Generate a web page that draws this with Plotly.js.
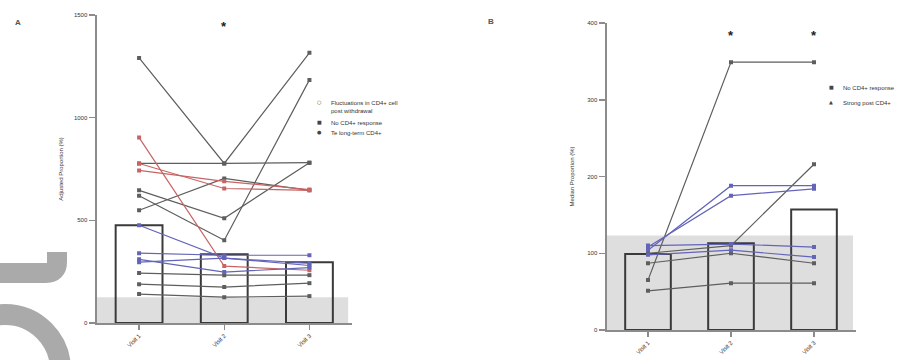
<!DOCTYPE html>
<html>
<head>
<meta charset="utf-8">
<script src="https://cdn.plot.ly/plotly-3.0.1.min.js"></script>
<style>html,body{margin:0;padding:0;background:#fff}#chart{width:910px;height:360px}</style>
</head>
<body>
<div id="chart"></div>
<script>
// ---------- data ----------
const categories = ['Visit 1', 'Visit 2', 'Visit 3'];

// Panel A
const leftBarMeans = [476, 335, 296];
const leftRefUpper = 126;
const leftGray = [
  [1291, 777, 1316],
  [777, 777, 781],
  [620, 403, 1184],
  [646, 510, 781],
  [549, 704, 646],
  [243, 233, 233],
  [189, 175, 194],
  [141, 126, 131]
];
const leftRed = [
  [903, 277, 257],
  [777, 655, 646],
  [743, 690, 650]
];
const leftBlue = [
  [476, 316, 291],
  [340, 330, 330],
  [296, 316, 280],
  [310, 248, 270]
];
const leftSig = ['Visit 2'];
const leftLegendNames = ['Fluctuations in CD4+ cell<br>post withdrawal', 'No CD4+ response', 'Te long-term CD4+'];
const leftLegendSymbols = ['○', '■', '●'];

// Panel B
const rightBarMeans = [99, 113, 157];
const rightRefUpper = 123;
const rightGray = [
  [65, 349, 349],
  [51, 61, 61],
  [100, 110, 216],
  [87, 100, 87]
];
const rightBlue = [
  [104, 188, 188],
  [108, 175, 184],
  [110, 112, 108],
  [98, 104, 95]
];
const rightSig = ['Visit 2', 'Visit 3'];
const rightLegendNames = ['No CD4+ response', 'Strong post CD4+'];
const rightLegendSymbols = ['■', '▲'];

// ---------- styling ----------
const GRAY = '#5e5e5e', RED = '#c86464', BLUE = '#6464b8';
const AX = '#8c8c8c';
const FONT = {family: 'Liberation Sans, Arial, sans-serif', size: 6, color: '#333'};

const traces = [];
function bars(means, xa, ya) {
  traces.push({type: 'bar', x: categories, y: means, xaxis: xa, yaxis: ya, width: 0.55,
    marker: {color: 'rgba(255,255,255,0)', line: {color: '#3a3a3a', width: 2}},
    showlegend: false, hoverinfo: 'skip'});
}
function lines(set, color, xa, ya) {
  set.forEach(v => traces.push({type: 'scatter', mode: 'lines+markers', x: categories, y: v,
    xaxis: xa, yaxis: ya, line: {color: color, width: 1.2},
    marker: {color: color, size: 4, symbol: 'square'}, showlegend: false}));
}
bars(leftBarMeans, 'x', 'y');
lines(leftGray, GRAY, 'x', 'y');
lines(leftRed, RED, 'x', 'y');
lines(leftBlue, BLUE, 'x', 'y');
bars(rightBarMeans, 'x2', 'y2');
lines(rightGray, GRAY, 'x2', 'y2');
lines(rightBlue, BLUE, 'x2', 'y2');

const W = 910, H = 360;
const px = x => x / W, py = y => 1 - y / H;

const xCommon = {type: 'category', range: [-0.5, 2.5], showline: true, linecolor: AX, linewidth: 2,
  ticks: 'outside', ticklen: 5, tickcolor: AX, tickwidth: 1.5, tickangle: -45, tickfont: FONT,
  showgrid: false, zeroline: false, automargin: false, fixedrange: true};
const yCommon = {showline: true, linecolor: AX, linewidth: 2, ticks: 'outside', ticklen: 6,
  tickcolor: AX, tickwidth: 1.5, tickfont: FONT, showgrid: false, zeroline: false,
  automargin: false, fixedrange: true};

// legend built from annotations (compact rows like the original)
function legendAnn(names, syms, xSym, yRows) {
  const out = [];
  names.forEach((n, i) => {
    out.push({text: syms[i], xref: 'paper', yref: 'paper', x: px(xSym), y: py(yRows[i]), showarrow: false,
      xanchor: 'center', yanchor: 'middle', font: {family: 'DejaVu Sans', size: 5, color: '#444'}});
    out.push({text: n, xref: 'paper', yref: 'paper', x: px(xSym + 10), y: py(yRows[i] - 4), showarrow: false,
      xanchor: 'left', yanchor: 'top', align: 'left', font: FONT});
  });
  return out;
}

const layout = {
  width: W, height: H,
  margin: {l: 0, r: 0, t: 0, b: 0},
  paper_bgcolor: '#fff', plot_bgcolor: 'rgba(0,0,0,0)',
  font: FONT, showlegend: false,
  xaxis: Object.assign({}, xCommon, {domain: [96.5 / W, 352 / W], anchor: 'y'}),
  yaxis: Object.assign({}, yCommon, {domain: [py(323), py(15)], range: [0, 1500], tickvals: [0, 500, 1000, 1500],
    anchor: 'x', title: {text: 'Adjusted Proportion (%)', font: FONT, standoff: 10}}),
  xaxis2: Object.assign({}, xCommon, {domain: [606.5 / W, 855.5 / W], anchor: 'y2'}),
  yaxis2: Object.assign({}, yCommon, {domain: [py(330), py(23)], range: [0, 400], tickvals: [0, 100, 200, 300, 400],
    anchor: 'x2', title: {text: 'Median Proportion (%)', font: FONT, standoff: 12}}),
  shapes: [
    {type: 'rect', xref: 'x domain', yref: 'y', x0: 0, x1: 0.985, y0: 0, y1: leftRefUpper,
      fillcolor: 'rgba(200,200,200,0.6)', line: {width: 0}, layer: 'below'},
    {type: 'rect', xref: 'x2 domain', yref: 'y2', x0: 0, x1: 0.99, y0: 0, y1: rightRefUpper,
      fillcolor: 'rgba(200,200,200,0.6)', line: {width: 0}, layer: 'below'},
    // watermark fragments
    {type: 'path', xref: 'paper', yref: 'paper',
      path: `M ${px(-5)} ${py(273)} L ${px(46)} ${py(273)} Q ${px(57)} ${py(273)} ${px(57)} ${py(262)} L ${px(57)} ${py(252)}`,
      line: {color: '#aaaaaa', width: 20}, layer: 'above'},
    {type: 'circle', xref: 'paper', yref: 'paper', x0: px(5 - 55.5), x1: px(5 + 55.5), y0: py(370 + 55.5), y1: py(370 - 55.5),
      line: {color: '#aaaaaa', width: 21}, layer: 'above'}
  ],
  annotations: [
    {text: '<b>A</b>', xref: 'paper', yref: 'paper', x: px(13), y: py(16), showarrow: false, font: {size: 8, color: '#555'}},
    {text: '<b>B</b>', xref: 'paper', yref: 'paper', x: px(491), y: py(15), showarrow: false, font: {size: 8, color: '#555'}}
  ].concat(
    leftSig.map(c => ({text: '<b>*</b>', xref: 'x', yref: 'y domain', x: c, y: 0.962, showarrow: false,
      font: {size: 13, color: '#222'}, yanchor: 'middle'})),
    rightSig.map(c => ({text: '<b>*</b>', xref: 'x2', yref: 'y2 domain', x: c, y: 0.96, showarrow: false,
      font: {size: 13, color: '#222'}, yanchor: 'middle'})),
    legendAnn(leftLegendNames, leftLegendSymbols, 319, [102, 122, 132]),
    legendAnn(rightLegendNames, rightLegendSymbols, 831, [87, 102])
  )
};

Plotly.newPlot('chart', traces, layout, {staticPlot: true, displayModeBar: false});
</script>
</body>
</html>
